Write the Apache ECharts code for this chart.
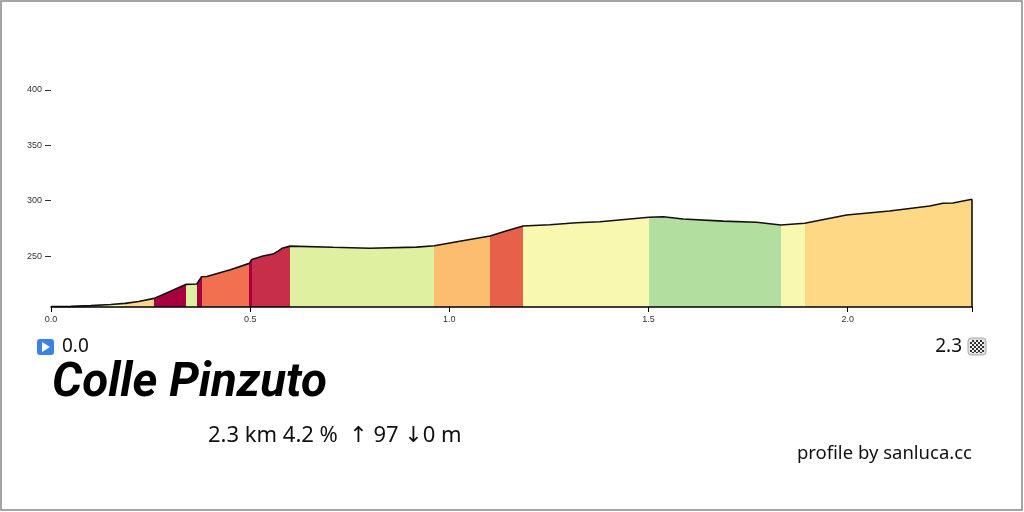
<!DOCTYPE html>
<html lang="en">
<head>
    <meta charset="UTF-8">
    <title>Colle Pinzuto</title>
    <script src="https://cdn.jsdelivr.net/npm/echarts@6.0.0/dist/echarts.min.js"></script>
    <style>
        html, body { margin: 0; padding: 0; background: #fff; }
    </style>
</head>
<body>
    <div id="main" style="width: 1024px;height:512px;"></div>
    <script type="text/javascript">
        // profile points: distance (km) and elevation (m)
        const distKm = [0, 0.05, 0.10, 0.15, 0.186, 0.22, 0.259, 0.30, 0.338, 0.366, 0.378, 0.391, 0.45, 0.498, 0.504,
            0.532, 0.557, 0.570, 0.580, 0.600, 0.708, 0.800, 0.918, 0.962, 1.026, 1.102, 1.144, 1.185, 1.252, 1.319,
            1.378, 1.460, 1.501, 1.537, 1.587, 1.687, 1.771, 1.832, 1.892, 1.997, 2.105, 2.206, 2.239, 2.264, 2.312];
        const elevM = [204.5, 204.6, 205.2, 206.2, 207.3, 209.0, 211.8, 218.3, 224.4, 224.8, 231.3, 231.6, 237.6, 243.4, 247.0,
            250.0, 251.8, 254.5, 257.0, 259.0, 257.9, 257.0, 258.1, 259.3, 263.4, 268.1, 272.9, 277.1, 278.3, 280.1,
            281.0, 283.7, 285.0, 285.5, 283.5, 281.6, 280.5, 278.0, 279.6, 287.1, 290.7, 295.2, 297.7, 297.9, 301.3];

        // gradient sections (km boundaries) and their fill colours
        const sectionBreaks = [0, 0.186, 0.259, 0.338, 0.366, 0.378, 0.498, 0.504, 0.600, 0.962, 1.102, 1.185, 1.501, 1.832, 1.892, 2.312];
        const sectionColors = ['#f8f7b2', '#fdd886', '#a8003f', '#dff0a0', '#a8003f', '#f07050', '#a8003f', '#c62e4a',
            '#dff0a0', '#fdbd6f', '#e6604a', '#f8f8b0', '#b2dfa0', '#f8f8b0', '#fed884'];

        const yTicks = [250, 300, 350, 400];
        const xTicks = [0, 0.5, 1.0, 1.5, 2.0];
        const yMin = 204;
        const yMax = 400;

        const climbName = 'Colle Pinzuto';
        const startLabel = '0.0';
        const endLabel = '2.3';
        const statsLabel = '2.3 km 4.2 %  \u2191 97 \u21930 m';
        const creditLabel = 'profile by sanluca.cc';

        const totalKm = distKm[distKm.length - 1];
        const endElev = elevM[elevM.length - 1];
        const points = distKm.map((d, i) => [d, elevM[i]]);

        const pieces = sectionColors.map((c, i) => {
            const p = { gte: sectionBreaks[i], color: c };
            if (i === sectionColors.length - 1) p.lte = sectionBreaks[i + 1];
            else p.lt = sectionBreaks[i + 1];
            return p;
        });

        // small checkered pattern for the finish flag
        const pat = document.createElement('canvas');
        pat.width = 4; pat.height = 4;
        const pctx = pat.getContext('2d');
        pctx.fillStyle = '#eee'; pctx.fillRect(0, 0, 4, 4);
        pctx.fillStyle = '#333'; pctx.fillRect(0, 0, 2, 2); pctx.fillRect(2, 2, 2, 2);

        let myChart = echarts.init(document.getElementById('main'));

        let options = {
            animation: false,
            backgroundColor: '#fff',
            grid: { left: 51, right: 52, top: 90, bottom: 205 },
            xAxis: {
                type: 'value',
                min: 0,
                max: totalKm,
                z: 5,
                splitLine: { show: false },
                axisLine: { lineStyle: { color: '#000', width: 1.5 } },
                axisTick: { length: 5, lineStyle: { color: '#000', width: 1 }, customValues: xTicks.concat([totalKm]) },
                axisLabel: {
                    customValues: xTicks,
                    formatter: v => v.toFixed(1),
                    color: '#333', fontSize: 9, fontFamily: 'Liberation Sans', margin: 8
                }
            },
            yAxis: {
                type: 'value',
                min: yMin,
                max: yMax,
                splitLine: { show: false },
                axisLine: { show: false },
                axisTick: { show: true, length: 6, lineStyle: { color: '#333' }, customValues: yTicks },
                axisLabel: { customValues: yTicks, color: '#333', fontSize: 9, fontFamily: 'Liberation Sans', margin: 9 }
            },
            visualMap: {
                type: 'piecewise',
                show: false,
                dimension: 0,
                seriesIndex: 0,
                pieces: pieces
            },
            series: [
                {
                    type: 'line',
                    data: points,
                    symbol: 'none',
                    silent: true,
                    z: 2,
                    lineStyle: { width: 0 },
                    areaStyle: { opacity: 1, origin: 'start' }
                },
                {
                    type: 'line',
                    data: points,
                    symbol: 'none',
                    silent: true,
                    z: 3,
                    lineStyle: { color: '#111', width: 1.6 },
                    markLine: {
                        silent: true,
                        symbol: 'none',
                        label: { show: false },
                        lineStyle: { color: '#111', width: 1.6, type: 'solid' },
                        data: [[{ coord: [totalKm, yMin] }, { coord: [totalKm, endElev] }]]
                    }
                }
            ],
            graphic: [
                { type: 'rect', shape: { x: 1, y: 1, width: 1021, height: 509 }, style: { fill: 'none', stroke: '#888', lineWidth: 1.5 } },
                // start marker
                { type: 'rect', shape: { x: 37, y: 339, width: 17, height: 16, r: 3 }, style: { fill: '#3b82e6' } },
                { type: 'polygon', shape: { points: [[42, 342], [42, 352], [50, 347]] }, style: { fill: '#fff' } },
                { type: 'text', left: 62, top: 337, style: { text: startLabel, font: '19px "Noto Sans"', fill: '#111' } },
                // finish marker
                { type: 'text', right: 1024 - 962, top: 337, style: { text: endLabel, font: '19px "Noto Sans"', fill: '#111' } },
                { type: 'rect', shape: { x: 968, y: 338, width: 18, height: 17, r: 3 }, style: { fill: '#ddd', stroke: '#aaa', lineWidth: 1 } },
                { type: 'rect', shape: { x: 970, y: 340, width: 14, height: 13 }, style: { fill: { image: pat, repeat: 'repeat' } } },
                // title and stats
                { type: 'text', x: 52, y: 384, style: { text: climbName, font: 'italic bold 47.5px Roboto', fill: '#000', verticalAlign: 'middle' } },
                { type: 'text', x: 208, y: 436, style: { text: statsLabel, font: '22px "Noto Sans", "DejaVu Sans"', fill: '#111', verticalAlign: 'middle' } },
                { type: 'text', x: 972, y: 454, style: { text: creditLabel, font: '18.5px "Noto Sans"', fill: '#111', align: 'right', verticalAlign: 'middle' } }
            ]
        };

        myChart.setOption(options);
    </script>
</body>
</html>
